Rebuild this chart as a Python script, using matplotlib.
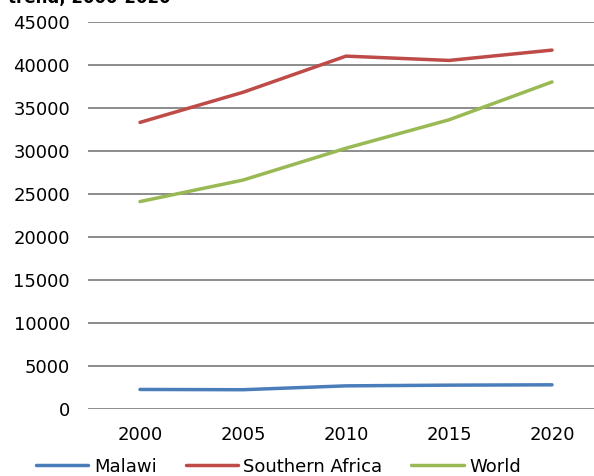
import matplotlib
matplotlib.use("Agg")
import matplotlib.pyplot as plt

years = ["2000", "2005", "2010", "2015", "2020"]
malawi = [2270, 2240, 2690, 2770, 2810]
southern_africa = [33300, 36800, 41000, 40500, 41700]
world = [24100, 26600, 30300, 33600, 38000]
yticks = [0, 5000, 10000, 15000, 20000, 25000, 30000, 35000, 40000, 45000]
title_text = "trend, 2000-2020"

fig = plt.figure(figsize=(5.94, 4.76), dpi=100)
ax = fig.add_axes([88 / 594, (476 - 409) / 476, 1 - 88 / 594, (409 - 21.7) / 476])

x = list(range(len(years)))
series = [("Malawi", malawi, "#4A7EBB"),
          ("Southern Africa", southern_africa, "#BE4B48"),
          ("World", world, "#98B954")]
for name, vals, col in series:
    ax.plot(x, vals, color=col, lw=2.5, solid_capstyle="round", label=name, zorder=3)

ax.set_ylim(0, 45000)
ax.set_xlim(-0.505, (594 - 140) / 103)
ax.set_yticks(yticks)
ax.set_yticklabels([str(v) for v in yticks])
ax.set_xticks(x)
ax.set_xticklabels(years)
ax.tick_params(axis="both", length=0, labelsize=13, colors="black")
ax.tick_params(axis="y", pad=13)
ax.tick_params(axis="x", pad=12.5)
ax.yaxis.grid(True, color="#8C8C8C", lw=1.4)
ax.set_axisbelow(True)
for s in ax.spines.values():
    s.set_visible(False)

fig.text(8 / 594, 1 - 3 / 476, title_text, fontsize=12, fontweight="bold", va="baseline", ha="left")

handles, labels = ax.get_legend_handles_labels()
fig.legend(handles, labels, loc="center", bbox_to_anchor=(278.5 / 594, 9.3 / 476), ncol=3,
           frameon=False, fontsize=13, handlelength=2.9, handletextpad=0.3, columnspacing=1.6,
           borderaxespad=0, borderpad=0)

fig.savefig("out.png", dpi=100)
